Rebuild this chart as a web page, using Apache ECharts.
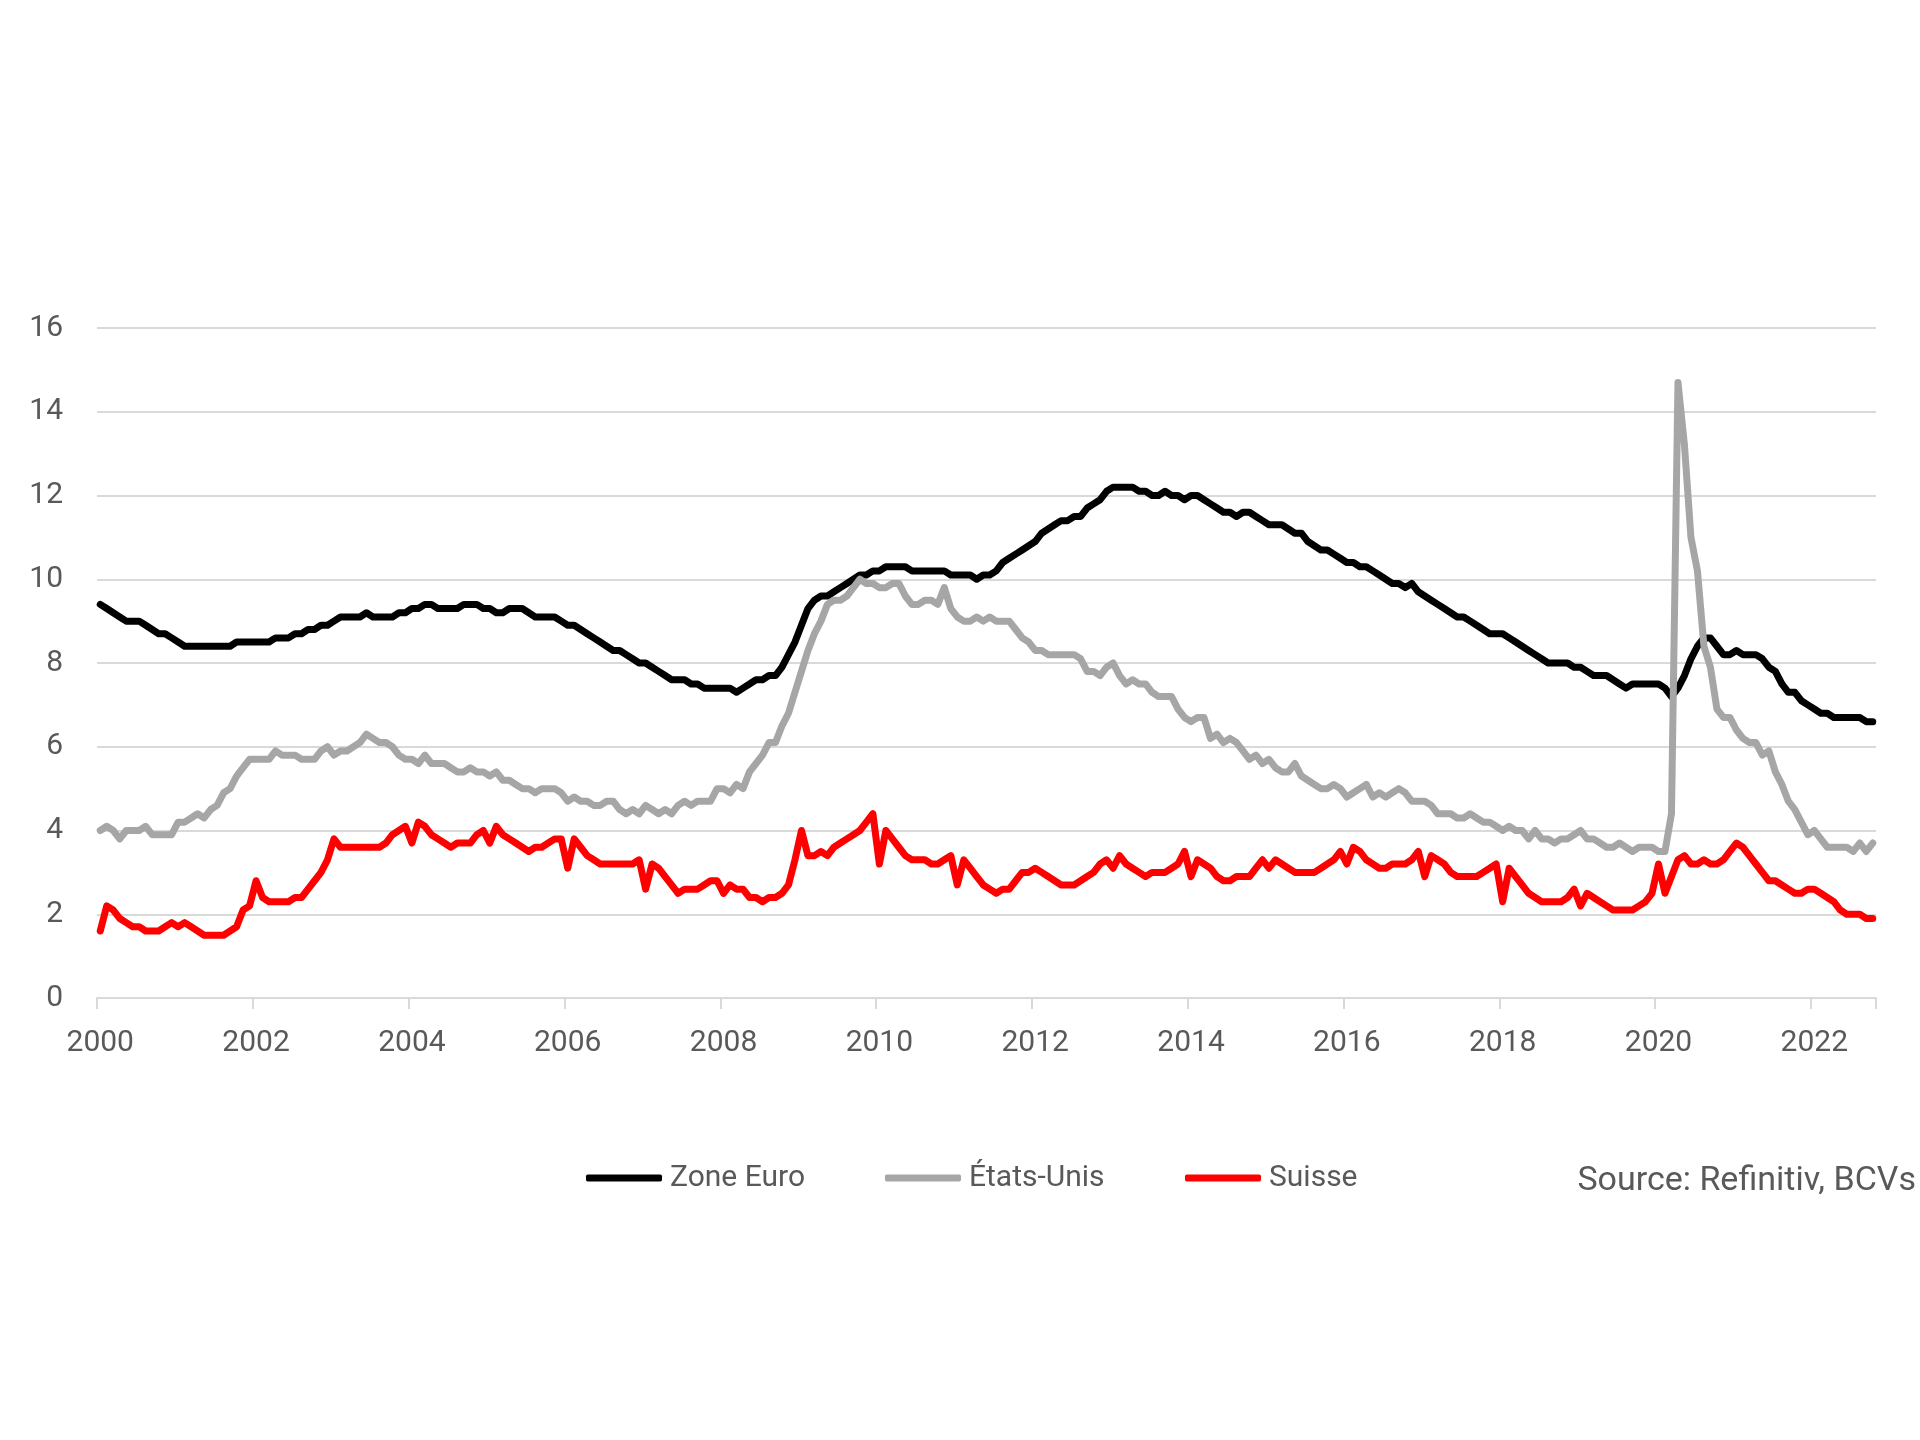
<!DOCTYPE html>
<html>
<head>
<meta charset="utf-8">
<script src="https://cdn.jsdelivr.net/npm/echarts@6/dist/echarts.min.js"></script>
<style>
html,body{margin:0;padding:0;background:#fff;}
#c{width:1920px;height:1440px;}
</style>
</head>
<body>
<div id="c"></div>
<script>
// Monthly data, Jan 2000 .. Oct 2022
var startYear = 2000, monthCount = 274;
var seriesNames = ['Zone Euro', 'États-Unis', 'Suisse'];
var yTicks = [0, 2, 4, 6, 8, 10, 12, 14, 16];
var sourceText = 'Source: Refinitiv, BCVs';

var zoneEuro = [
  9.4,9.3,9.2,9.1,9.0,9.0,9.0,8.9,8.8,8.7,8.7,8.6,
  8.5,8.4,8.4,8.4,8.4,8.4,8.4,8.4,8.4,8.5,8.5,8.5,
  8.5,8.5,8.5,8.6,8.6,8.6,8.7,8.7,8.8,8.8,8.9,8.9,
  9.0,9.1,9.1,9.1,9.1,9.2,9.1,9.1,9.1,9.1,9.2,9.2,
  9.3,9.3,9.4,9.4,9.3,9.3,9.3,9.3,9.4,9.4,9.4,9.3,
  9.3,9.2,9.2,9.3,9.3,9.3,9.2,9.1,9.1,9.1,9.1,9.0,
  8.9,8.9,8.8,8.7,8.6,8.5,8.4,8.3,8.3,8.2,8.1,8.0,
  8.0,7.9,7.8,7.7,7.6,7.6,7.6,7.5,7.5,7.4,7.4,7.4,
  7.4,7.4,7.3,7.4,7.5,7.6,7.6,7.7,7.7,7.9,8.2,8.5,
  8.9,9.3,9.5,9.6,9.6,9.7,9.8,9.9,10.0,10.1,10.1,10.2,
  10.2,10.3,10.3,10.3,10.3,10.2,10.2,10.2,10.2,10.2,10.2,10.1,
  10.1,10.1,10.1,10.0,10.1,10.1,10.2,10.4,10.5,10.6,10.7,10.8,
  10.9,11.1,11.2,11.3,11.4,11.4,11.5,11.5,11.7,11.8,11.9,12.1,
  12.2,12.2,12.2,12.2,12.1,12.1,12.0,12.0,12.1,12.0,12.0,11.9,
  12.0,12.0,11.9,11.8,11.7,11.6,11.6,11.5,11.6,11.6,11.5,11.4,
  11.3,11.3,11.3,11.2,11.1,11.1,10.9,10.8,10.7,10.7,10.6,10.5,
  10.4,10.4,10.3,10.3,10.2,10.1,10.0,9.9,9.9,9.8,9.9,9.7,
  9.6,9.5,9.4,9.3,9.2,9.1,9.1,9.0,8.9,8.8,8.7,8.7,
  8.7,8.6,8.5,8.4,8.3,8.2,8.1,8.0,8.0,8.0,8.0,7.9,
  7.9,7.8,7.7,7.7,7.7,7.6,7.5,7.4,7.5,7.5,7.5,7.5,
  7.5,7.4,7.2,7.4,7.7,8.1,8.4,8.6,8.6,8.4,8.2,8.2,
  8.3,8.2,8.2,8.2,8.1,7.9,7.8,7.5,7.3,7.3,7.1,7.0,
  6.9,6.8,6.8,6.7,6.7,6.7,6.7,6.7,6.6,6.6
];

var etatsUnis = [
  4.0,4.1,4.0,3.8,4.0,4.0,4.0,4.1,3.9,3.9,3.9,3.9,
  4.2,4.2,4.3,4.4,4.3,4.5,4.6,4.9,5.0,5.3,5.5,5.7,
  5.7,5.7,5.7,5.9,5.8,5.8,5.8,5.7,5.7,5.7,5.9,6.0,
  5.8,5.9,5.9,6.0,6.1,6.3,6.2,6.1,6.1,6.0,5.8,5.7,
  5.7,5.6,5.8,5.6,5.6,5.6,5.5,5.4,5.4,5.5,5.4,5.4,
  5.3,5.4,5.2,5.2,5.1,5.0,5.0,4.9,5.0,5.0,5.0,4.9,
  4.7,4.8,4.7,4.7,4.6,4.6,4.7,4.7,4.5,4.4,4.5,4.4,
  4.6,4.5,4.4,4.5,4.4,4.6,4.7,4.6,4.7,4.7,4.7,5.0,
  5.0,4.9,5.1,5.0,5.4,5.6,5.8,6.1,6.1,6.5,6.8,7.3,
  7.8,8.3,8.7,9.0,9.4,9.5,9.5,9.6,9.8,10.0,9.9,9.9,
  9.8,9.8,9.9,9.9,9.6,9.4,9.4,9.5,9.5,9.4,9.8,9.3,
  9.1,9.0,9.0,9.1,9.0,9.1,9.0,9.0,9.0,8.8,8.6,8.5,
  8.3,8.3,8.2,8.2,8.2,8.2,8.2,8.1,7.8,7.8,7.7,7.9,
  8.0,7.7,7.5,7.6,7.5,7.5,7.3,7.2,7.2,7.2,6.9,6.7,
  6.6,6.7,6.7,6.2,6.3,6.1,6.2,6.1,5.9,5.7,5.8,5.6,
  5.7,5.5,5.4,5.4,5.6,5.3,5.2,5.1,5.0,5.0,5.1,5.0,
  4.8,4.9,5.0,5.1,4.8,4.9,4.8,4.9,5.0,4.9,4.7,4.7,
  4.7,4.6,4.4,4.4,4.4,4.3,4.3,4.4,4.3,4.2,4.2,4.1,
  4.0,4.1,4.0,4.0,3.8,4.0,3.8,3.8,3.7,3.8,3.8,3.9,
  4.0,3.8,3.8,3.7,3.6,3.6,3.7,3.6,3.5,3.6,3.6,3.6,
  3.5,3.5,4.4,14.7,13.2,11.0,10.2,8.4,7.9,6.9,6.7,6.7,
  6.4,6.2,6.1,6.1,5.8,5.9,5.4,5.1,4.7,4.5,4.2,3.9,
  4.0,3.8,3.6,3.6,3.6,3.6,3.5,3.7,3.5,3.7
];

var suisse = [
  1.6,2.2,2.1,1.9,1.8,1.7,1.7,1.6,1.6,1.6,1.7,1.8,
  1.7,1.8,1.7,1.6,1.5,1.5,1.5,1.5,1.6,1.7,2.1,2.2,
  2.8,2.4,2.3,2.3,2.3,2.3,2.4,2.4,2.6,2.8,3.0,3.3,
  3.8,3.6,3.6,3.6,3.6,3.6,3.6,3.6,3.7,3.9,4.0,4.1,
  3.7,4.2,4.1,3.9,3.8,3.7,3.6,3.7,3.7,3.7,3.9,4.0,
  3.7,4.1,3.9,3.8,3.7,3.6,3.5,3.6,3.6,3.7,3.8,3.8,
  3.1,3.8,3.6,3.4,3.3,3.2,3.2,3.2,3.2,3.2,3.2,3.3,
  2.6,3.2,3.1,2.9,2.7,2.5,2.6,2.6,2.6,2.7,2.8,2.8,
  2.5,2.7,2.6,2.6,2.4,2.4,2.3,2.4,2.4,2.5,2.7,3.3,
  4.0,3.4,3.4,3.5,3.4,3.6,3.7,3.8,3.9,4.0,4.2,4.4,
  3.2,4.0,3.8,3.6,3.4,3.3,3.3,3.3,3.2,3.2,3.3,3.4,
  2.7,3.3,3.1,2.9,2.7,2.6,2.5,2.6,2.6,2.8,3.0,3.0,
  3.1,3.0,2.9,2.8,2.7,2.7,2.7,2.8,2.9,3.0,3.2,3.3,
  3.1,3.4,3.2,3.1,3.0,2.9,3.0,3.0,3.0,3.1,3.2,3.5,
  2.9,3.3,3.2,3.1,2.9,2.8,2.8,2.9,2.9,2.9,3.1,3.3,
  3.1,3.3,3.2,3.1,3.0,3.0,3.0,3.0,3.1,3.2,3.3,3.5,
  3.2,3.6,3.5,3.3,3.2,3.1,3.1,3.2,3.2,3.2,3.3,3.5,
  2.9,3.4,3.3,3.2,3.0,2.9,2.9,2.9,2.9,3.0,3.1,3.2,
  2.3,3.1,2.9,2.7,2.5,2.4,2.3,2.3,2.3,2.3,2.4,2.6,
  2.2,2.5,2.4,2.3,2.2,2.1,2.1,2.1,2.1,2.2,2.3,2.5,
  3.2,2.5,2.9,3.3,3.4,3.2,3.2,3.3,3.2,3.2,3.3,3.5,
  3.7,3.6,3.4,3.2,3.0,2.8,2.8,2.7,2.6,2.5,2.5,2.6,
  2.6,2.5,2.4,2.3,2.1,2.0,2.0,2.0,1.9,1.9
];

// month categories (labels only)
var months = [];
for (var i = 0; i < monthCount; i++) {
  var y = startYear + Math.floor(i / 12), m = (i % 12) + 1;
  months.push(y + '-' + (m < 10 ? '0' + m : m));
}

var FONT = 'Roboto';
var TXT = '#595959';
var colors = ['#000000', '#a6a6a6', '#ff0000'];
var values = [zoneEuro, etatsUnis, suisse];

function everyTwoYears(index) { return index % 24 === 0; }

var chart = echarts.init(document.getElementById('c'), null, {renderer: 'canvas'});

var legendLefts = [586, 885, 1185];
var legends = seriesNames.map(function (n, k) {
  return {
    data: [n],
    left: legendLefts[k],
    top: 1163,
    padding: 0,
    icon: 'roundRect',
    itemWidth: 76,
    itemHeight: 7,
    itemGap: 0,
    selectedMode: false,
    textStyle: {fontFamily: FONT, fontSize: 30, color: TXT, padding: [0, 0, 0, 3], lineHeight: 30}
  };
});

chart.setOption({
  animation: false,
  backgroundColor: '#ffffff',
  title: {
    text: sourceText,
    right: 4,
    top: 1164,
    padding: 0,
    textStyle: {fontFamily: FONT, fontSize: 34, fontWeight: 'normal', color: TXT, lineHeight: 34}
  },
  legend: legends,
  grid: {left: 97, right: 44, top: 328, bottom: 442, containLabel: false},
  xAxis: {
    type: 'category',
    data: months,
    boundaryGap: true,
    axisLine: {show: true, lineStyle: {color: '#d9d9d9', width: 2}},
    axisTick: {show: true, interval: everyTwoYears, length: 11, lineStyle: {color: '#d9d9d9', width: 2}},
    axisLabel: {
      interval: everyTwoYears,
      margin: 30,
      fontFamily: FONT, fontSize: 30, color: TXT,
      formatter: function (v) { return v.slice(0, 4); }
    },
    splitLine: {show: false}
  },
  yAxis: {
    type: 'value',
    min: yTicks[0],
    max: yTicks[yTicks.length - 1],
    interval: yTicks[1] - yTicks[0],
    axisLine: {show: false},
    axisTick: {show: false},
    axisLabel: {margin: 34, fontFamily: FONT, fontSize: 30, color: TXT},
    splitLine: {show: true, lineStyle: {color: '#d9d9d9', width: 2}}
  },
  series: seriesNames.map(function (n, k) {
    return {
      name: n,
      type: 'line',
      data: values[k],
      symbol: 'none',
      smooth: false,
      color: colors[k],
      lineStyle: {color: colors[k], width: 7, cap: 'round', join: 'round'},
      itemStyle: {color: colors[k]}
    };
  })
});
</script>
</body>
</html>
